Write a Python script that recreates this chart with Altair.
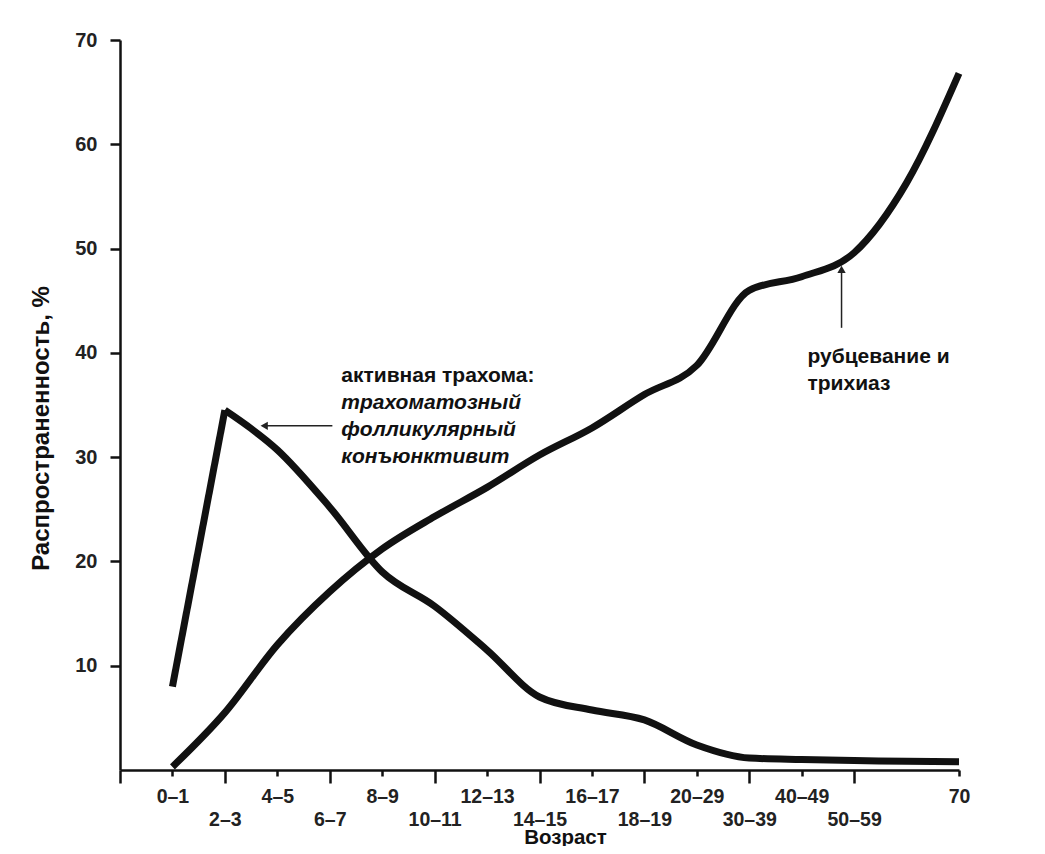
import altair as alt
import pandas as pd

# ---- data ----
ages = ["0–1", "2–3", "4–5", "6–7", "8–9", "10–11", "12–13", "14–15",
        "16–17", "18–19", "20–29", "30–39", "40–49", "50–59", "60–69", "70"]
age_index = list(range(len(ages)))
tick_labels = ["0–1", "2–3", "4–5", "6–7", "8–9", "10–11", "12–13", "14–15",
               "16–17", "18–19", "20–29", "30–39", "40–49", "50–59", "", "70"]
active = [8.0, 34.5, 30.7, 25.2, 19.0, 15.7, 11.5, 7.0, 5.75, 4.8, 2.4, 1.15, 1.0, 0.9, 0.85, 0.8]
scarring = [0.3, 5.5, 12.0, 17.1, 21.2, 24.3, 27.1, 30.2, 32.8, 36.0, 38.8, 46.0, 47.3, 49.6, 56.3, 66.8]
y_ticks = [10, 20, 30, 40, 50, 60, 70]
x_ticks = [-1, 0, 1, 2, 3, 4, 5, 6, 7, 8, 9, 10, 11, 12, 13, 15]

note_text = ["активная трахома:", "трахоматозный", "фолликулярный", "конъюнктивит",
             "рубцевание и", "трихиаз"]
note_style = ["normal", "italic", "italic", "italic", "normal", "normal"]
note_x = [3.22, 3.22, 3.22, 3.22, 12.11, 12.11]
note_y = [37.8, 35.2, 32.6, 30.0, 39.6, 37.0]

arrow_x = [3.05, 12.76]
arrow_x2 = [1.75, 12.76]
arrow_y = [33.0, 42.4]
arrow_y2 = [33.0, 48.0]
arrow_shape = ["triangle-left", "triangle-up"]

df = pd.DataFrame({"idx": age_index, "age": ages, "active": active, "scarring": scarring})
notes = pd.DataFrame({"t": note_text, "s": note_style, "x": note_x, "y": note_y})
arrows = pd.DataFrame({"x": arrow_x, "x2": arrow_x2, "y": arrow_y, "y2": arrow_y2, "shape": arrow_shape})

FONT = "Liberation Sans"
lbl_js = "[" + ",".join('"%s"' % t for t in tick_labels) + "]"
label_expr = (f"datum.value < 0 ? '' : ((datum.value % 2 == 1 && datum.value < 15) ? ['', {lbl_js}[datum.value]] "
              f": {lbl_js}[datum.value])")

x_enc = alt.X("idx:Q", scale=alt.Scale(domain=[-1, 15], nice=False, zero=False),
              axis=alt.Axis(values=x_ticks, labelExpr=label_expr, grid=False,
                            title="Возраст", titleFont=FONT, titleFontSize=20.5,
                            titleFontWeight="bold", titleColor="#111",
                            titleX=445, titleY=67, titleBaseline="middle",
                            labelFont=FONT, labelFontSize=19.5, labelFontWeight="bold",
                            labelColor="#222", labelLineHeight=16, labelPadding=11,
                            labelBaseline="top", labelFlush=False, labelOverlap=False,
                            tickSize={"condition": {"test": "datum.value % 2 != 0 && datum.value < 15", "value": 13}, "value": 6},
                            tickWidth=2.5, tickColor="#111", domainColor="#111", domainWidth=2.5))
y_scale = alt.Scale(domain=[0, 70], nice=False)
y_axis = alt.Axis(values=y_ticks, grid=False, title="Распространенность, %",
                  titleFont=FONT, titleFontSize=24, titleFontWeight="bold", titleColor="#111",
                  titleX=-79, titleY=388, titleAngle=-90, titleBaseline="middle", titleAlign="center",
                  labelFont=FONT, labelFontSize=20, labelFontWeight="bold", labelColor="#222",
                  labelPadding=13, tickSize=10, tickWidth=2.5, tickColor="#111",
                  domainColor="#111", domainWidth=2.5)

base = alt.Chart(df)
scar_line = base.mark_line(color="#111", strokeWidth=7, interpolate="monotone").encode(
    x=x_enc, y=alt.Y("scarring:Q", scale=y_scale, axis=y_axis))
active_rise = base.transform_filter("datum.idx <= 1").mark_line(
    color="#111", strokeWidth=7, interpolate="linear", strokeJoin="miter").encode(
    x="idx:Q", y=alt.Y("active:Q", scale=y_scale))
active_fall = base.transform_filter("datum.idx >= 1").mark_line(
    color="#111", strokeWidth=7, interpolate="monotone").encode(
    x="idx:Q", y=alt.Y("active:Q", scale=y_scale))

arrow_lines = alt.Chart(arrows).mark_rule(color="#222", strokeWidth=1.5).encode(
    x="x:Q", x2="x2:Q", y="y:Q", y2="y2:Q")
arrow_heads = alt.Chart(arrows).mark_point(filled=True, color="#222", size=70, opacity=1).encode(
    x="x2:Q", y="y2:Q", shape=alt.Shape("shape:N", scale=None))

note_normal = alt.Chart(notes).transform_filter("datum.s == 'normal'").mark_text(
    align="left", baseline="middle", font=FONT, fontSize=21, fontWeight="bold",
    color="#111").encode(x="x:Q", y="y:Q", text="t:N")
note_italic = alt.Chart(notes).transform_filter("datum.s == 'italic'").mark_text(
    align="left", baseline="middle", font=FONT, fontSize=21, fontWeight="bold",
    fontStyle="italic", color="#111").encode(x="x:Q", y="y:Q", text="t:N")

chart = alt.layer(scar_line, active_fall, active_rise, arrow_lines, arrow_heads,
                  note_normal, note_italic).properties(
    width=839, height=730,
    background="white",
    autosize=alt.AutoSizeParams(type="none"),
    padding={"left": 112, "top": 32, "right": 78, "bottom": 76},
).configure_view(stroke=None)

chart.save("out.html", embed_options={"renderer": "svg", "actions": False})
